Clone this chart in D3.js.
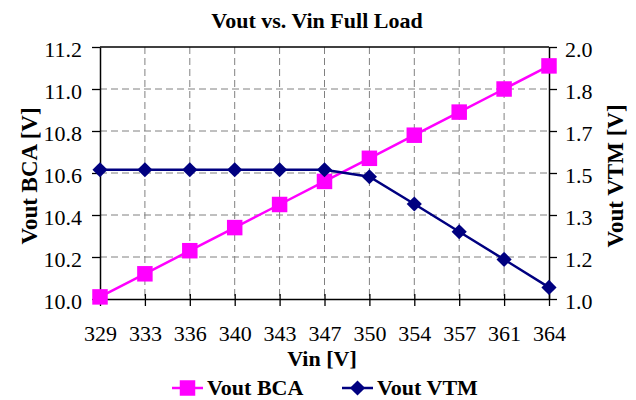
<!DOCTYPE html>
<html><head><meta charset="utf-8">
<script src="https://cdn.jsdelivr.net/npm/d3@7"></script>
<style>body{margin:0;background:#fff}svg{display:block}svg text{font-family:"Times New Roman","Liberation Serif","DejaVu Serif",serif !important;fill:#000}</style>
</head><body><svg id="c" width="636" height="400"></svg>
<script>
const categories = ["329","333","336","340","343","347","350","354","357","361","364"];
const voutBCA = [10.01,10.12,10.23,10.34,10.45,10.56,10.67,10.78,10.89,11.00,11.11];
const voutVTM = [1.513,1.513,1.513,1.513,1.513,1.513,1.485,1.377,1.267,1.157,1.046];
const leftTicks = [10.0,10.2,10.4,10.6,10.8,11.0,11.2];
const rightTicks = [1.0,1.0+1/6,1.0+2/6,1.5,1.0+4/6,1.0+5/6,2.0];

const FONT = '"Times New Roman","Liberation Serif",serif';
const svg = d3.select("#c");
const m = {l:100, r:549, t:47, b:299};
const x = d3.scalePoint().domain(categories).range([m.l, m.r]);
const yL = d3.scaleLinear().domain([10.0,11.2]).range([m.b, m.t]);
const yR = d3.scaleLinear().domain([1.0,2.0]).range([m.b, m.t]);

// gridlines
const g = svg.append("g");
g.selectAll("line.h").data(leftTicks.slice(1,-1)).join("line")
  .attr("x1",m.l).attr("x2",m.r).attr("y1",d=>yL(d)).attr("y2",d=>yL(d))
  .attr("stroke","#808080").attr("stroke-width",1).attr("stroke-dasharray","7,4");
g.selectAll("line.v").data(categories.slice(1,-1)).join("line")
  .attr("x1",d=>x(d)).attr("x2",d=>x(d)).attr("y1",m.t).attr("y2",m.b)
  .attr("stroke","#808080").attr("stroke-width",1).attr("stroke-dasharray","7,4");
svg.append("line").attr("x1",m.l).attr("x2",m.r).attr("y1",m.t).attr("y2",m.t).attr("stroke","#000").attr("stroke-width",1.5);

// axes
const axL = svg.append("g").attr("transform",`translate(${m.l},0)`)
  .call(d3.axisLeft(yL).tickValues(leftTicks).tickFormat(d3.format(".1f")).tickSizeInner(8).tickSizeOuter(0).tickPadding(10));
const axR = svg.append("g").attr("transform",`translate(${m.r},0)`)
  .call(d3.axisRight(yR).tickValues(rightTicks).tickFormat(d3.format(".1f")).tickSizeInner(8).tickSizeOuter(0).tickPadding(8));
const axB = svg.append("g").attr("transform",`translate(0,${m.b})`)
  .call(d3.axisBottom(x).tickSizeInner(7).tickSizeOuter(0).tickPadding(19));
[axL,axR,axB].forEach(a=>{
  a.attr("font-family",FONT);
  a.selectAll("path.domain").attr("stroke","#000").attr("stroke-width",1.5);
  a.selectAll(".tick line").attr("stroke","#000").attr("stroke-width",1.3);
  a.selectAll("text").style("font-family",FONT).attr("font-size",22).attr("fill","#000");
});
axL.selectAll("text").attr("dy","0.42em");
axR.selectAll("text").attr("dy","0.42em");
axB.selectAll(".tick line").attr("y1",-5);

// lines
const lineL = d3.line().x((d,i)=>x(categories[i])).y(d=>yL(d));
const lineR = d3.line().x((d,i)=>x(categories[i])).y(d=>yR(d));
svg.append("path").datum(voutBCA).attr("d",lineL).attr("fill","none").attr("stroke","#FF00FF").attr("stroke-width",2.5);
svg.append("path").datum(voutVTM).attr("d",lineR).attr("fill","none").attr("stroke","#000080").attr("stroke-width",2.5);

const sq = d3.symbol().type(d3.symbolSquare).size(240);
const di = d3.symbol().type(d3.symbolSquare).size(115);
svg.selectAll("path.bca").data(voutBCA).join("path")
  .attr("transform",(d,i)=>`translate(${x(categories[i])},${yL(d)})`).attr("d",sq).attr("fill","#FF00FF");
svg.selectAll("path.vtm").data(voutVTM).join("path")
  .attr("transform",(d,i)=>`translate(${x(categories[i])},${yR(d)}) rotate(45)`).attr("d",di).attr("fill","#000080");

// titles
function t(sel){return sel.style("font-family",FONT).attr("font-weight","bold");}
t(svg.append("text")).attr("x",317).attr("y",28).attr("text-anchor","middle").attr("font-size",22).text("Vout vs. Vin Full Load");
t(svg.append("text")).attr("transform",`translate(37,176) rotate(-90)`).attr("text-anchor","middle").attr("font-size",23).text("Vout BCA [V]");
t(svg.append("text")).attr("transform",`translate(623,176) rotate(-90)`).attr("text-anchor","middle").attr("font-size",23).text("Vout VTM [V]");
t(svg.append("text")).attr("x",322).attr("y",366).attr("text-anchor","middle").attr("font-size",22).text("Vin [V]");

// legend
const legend = [{name:"Vout BCA",color:"#FF00FF",sym:sq,rot:0,x:172},{name:"Vout VTM",color:"#000080",sym:di,rot:45,x:342}];
const lg = svg.selectAll("g.lg").data(legend).join("g").attr("transform",d=>`translate(${d.x},388)`);
lg.append("line").attr("x1",0).attr("x2",31).attr("stroke",d=>d.color).attr("stroke-width",2.5);
lg.append("path").attr("transform",d=>`translate(15.5,0) rotate(${d.rot})`).attr("d",d=>d.sym()).attr("fill",d=>d.color);
t(lg.append("text")).attr("x",35).attr("y",7).attr("font-size",22).text(d=>d.name);
</script></body></html>
